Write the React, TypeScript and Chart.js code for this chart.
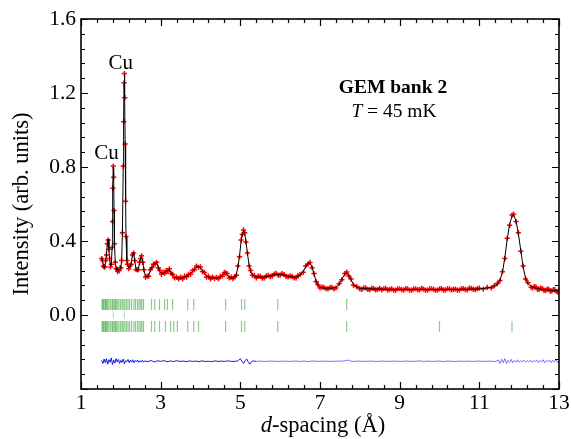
import React, { useEffect, useRef } from 'react';
import { Chart, registerables } from 'chart.js';
Chart.register(...registerables);

// ---------- data ----------
const dObs = [
  1.52, 1.54, 1.56, 1.58, 1.60, 1.62, 1.64, 1.66, 1.68, 1.70,
  1.72, 1.74, 1.76, 1.78, 1.79, 1.80, 1.81, 1.82, 1.83, 1.84,
  1.86, 1.88, 1.90, 1.92, 1.94, 1.96, 1.98, 2.00, 2.02, 2.04,
  2.06, 2.07, 2.08, 2.09, 2.10, 2.11, 2.12, 2.13, 2.15, 2.17,
  2.20, 2.23, 2.26, 2.29, 2.32, 2.35, 2.38, 2.41, 2.44, 2.47,
  2.50, 2.52, 2.55, 2.58, 2.62, 2.66, 2.70, 2.74, 2.78, 2.82,
  2.86, 2.90, 2.94, 2.98, 3.02, 3.06, 3.10, 3.14, 3.18, 3.22,
  3.26, 3.30, 3.35, 3.40, 3.45, 3.50, 3.55, 3.60, 3.65, 3.70,
  3.75, 3.80, 3.85, 3.90, 3.95, 4.00, 4.05, 4.10, 4.15, 4.20,
  4.25, 4.30, 4.35, 4.40, 4.45, 4.50, 4.55, 4.60, 4.63, 4.67,
  4.72, 4.77, 4.82, 4.86, 4.90, 4.94, 4.98, 5.02, 5.05, 5.08,
  5.11, 5.14, 5.18, 5.22, 5.26, 5.30, 5.35, 5.40, 5.50, 5.60,
  5.70, 5.80, 5.90, 6.00, 6.10, 6.20, 6.30, 6.40, 6.50, 6.58,
  6.64, 6.70, 6.75, 6.80, 6.85, 6.90, 6.95, 7.00, 7.10, 7.20,
  7.30, 7.40, 7.48, 7.55, 7.62, 7.67, 7.72, 7.78, 7.84, 7.92,
  8.00, 8.10, 8.20, 8.30, 8.40, 8.50, 8.60, 8.70, 8.80, 8.90,
  9.00, 9.10, 9.20, 9.30, 9.40, 9.50, 9.60, 9.70, 9.80, 9.90,
  10.00, 10.10, 10.20, 10.30, 10.40, 10.50, 10.60, 10.70, 10.80, 10.90,
  11.00, 11.10, 11.20, 11.30, 11.38, 11.45, 11.52, 11.58, 11.64, 11.70,
  11.76, 11.82, 11.86, 11.92, 11.98, 12.04, 12.10, 12.16, 12.22, 12.30,
  12.38, 12.46, 12.54, 12.62, 12.70, 12.78, 12.86, 12.94, 13.00,
];

const yObs = [
  0.305, 0.295, 0.265, 0.26, 0.26, 0.295, 0.325, 0.385, 0.405, 0.355,
  0.305, 0.26, 0.275, 0.365, 0.505, 0.685, 0.805, 0.745, 0.565, 0.385,
  0.285, 0.25, 0.25, 0.235, 0.245, 0.24, 0.255, 0.255, 0.295, 0.445,
  0.805, 1.045, 1.255, 1.305, 1.175, 0.925, 0.615, 0.425, 0.295, 0.275,
  0.25, 0.265, 0.275, 0.325, 0.335, 0.295, 0.245, 0.245, 0.245, 0.285,
  0.305, 0.32, 0.285, 0.245, 0.205, 0.21, 0.21, 0.245, 0.255, 0.275,
  0.275, 0.285, 0.255, 0.24, 0.22, 0.23, 0.225, 0.24, 0.235, 0.25,
  0.225, 0.22, 0.2, 0.205, 0.195, 0.205, 0.195, 0.21, 0.205, 0.22,
  0.22, 0.24, 0.245, 0.265, 0.258, 0.26, 0.235, 0.23, 0.205, 0.21,
  0.195, 0.205, 0.198, 0.203, 0.196, 0.21, 0.21, 0.23, 0.226, 0.224,
  0.2, 0.205, 0.196, 0.208, 0.215, 0.265, 0.315, 0.405, 0.435, 0.46,
  0.445, 0.395, 0.335, 0.265, 0.24, 0.215, 0.214, 0.2, 0.209, 0.201,
  0.214, 0.211, 0.225, 0.216, 0.219, 0.206, 0.209, 0.201, 0.219, 0.231,
  0.265, 0.276, 0.284, 0.256, 0.224, 0.181, 0.164, 0.146, 0.149, 0.141,
  0.149, 0.146, 0.169, 0.191, 0.224, 0.232, 0.211, 0.194, 0.161, 0.154,
  0.141, 0.147, 0.138, 0.145, 0.136, 0.144, 0.142, 0.135, 0.141, 0.134,
  0.142, 0.135, 0.141, 0.134, 0.142, 0.136, 0.14, 0.134, 0.142, 0.135,
  0.141, 0.134, 0.142, 0.136, 0.14, 0.135, 0.143, 0.136, 0.144, 0.137,
  0.145, 0.14, 0.149, 0.146, 0.159, 0.17, 0.186, 0.234, 0.305, 0.415,
  0.485, 0.54, 0.545, 0.505, 0.445, 0.345, 0.265, 0.195, 0.175, 0.15,
  0.153, 0.139, 0.145, 0.134, 0.14, 0.129, 0.137, 0.127, 0.133,
];

const dObsExtra = [
  5.45, 5.55, 5.65, 5.75, 5.85, 5.95, 6.05, 6.15, 6.25, 6.35, 6.45,
  7.05, 7.15, 7.25, 7.35,
  8.05, 8.15, 8.25, 8.35, 8.45, 8.55, 8.65, 8.75, 8.85, 8.95,
  9.05, 9.15, 9.25, 9.35, 9.45, 9.55, 9.65, 9.75, 9.85, 9.95,
  10.05, 10.15, 10.25, 10.35, 10.45, 10.55, 10.65, 10.75, 10.85, 10.95,
  12.34, 12.42, 12.50, 12.58, 12.66, 12.74, 12.82, 12.90, 12.97,
];
const yObsExtra = [
  0.21, 0.199, 0.212, 0.207, 0.221, 0.214, 0.224, 0.208, 0.211, 0.2, 0.213,
  0.151, 0.142, 0.148, 0.141,
  0.139, 0.146, 0.137, 0.143, 0.139, 0.136, 0.144, 0.138, 0.135, 0.142,
  0.137, 0.143, 0.135, 0.14, 0.137, 0.144, 0.135, 0.141, 0.138, 0.134,
  0.143, 0.136, 0.141, 0.139, 0.135, 0.142, 0.137, 0.145, 0.139, 0.143,
  0.146, 0.152, 0.138, 0.143, 0.131, 0.139, 0.13, 0.136, 0.124,
];

const yCalc = [
  0.31, 0.29, 0.27, 0.255, 0.265, 0.29, 0.33, 0.38, 0.41, 0.36,
  0.30, 0.265, 0.27, 0.36, 0.50, 0.69, 0.80, 0.75, 0.56, 0.39,
  0.28, 0.255, 0.245, 0.24, 0.24, 0.245, 0.25, 0.26, 0.29, 0.45,
  0.80, 1.05, 1.25, 1.30, 1.18, 0.92, 0.62, 0.42, 0.30, 0.27,
  0.255, 0.26, 0.28, 0.32, 0.34, 0.29, 0.25, 0.24, 0.25, 0.28,
  0.31, 0.315, 0.29, 0.24, 0.21, 0.205, 0.215, 0.24, 0.26, 0.27,
  0.28, 0.28, 0.26, 0.235, 0.225, 0.225, 0.23, 0.235, 0.24, 0.245,
  0.23, 0.215, 0.205, 0.20, 0.20, 0.20, 0.20, 0.205, 0.21, 0.215,
  0.225, 0.235, 0.25, 0.26, 0.262, 0.255, 0.24, 0.225, 0.21, 0.205,
  0.20, 0.20, 0.20, 0.20, 0.20, 0.205, 0.215, 0.225, 0.23, 0.22,
  0.205, 0.20, 0.20, 0.205, 0.22, 0.26, 0.32, 0.40, 0.44, 0.455,
  0.44, 0.40, 0.33, 0.27, 0.235, 0.22, 0.21, 0.205, 0.205, 0.205,
  0.21, 0.215, 0.22, 0.22, 0.215, 0.21, 0.205, 0.205, 0.215, 0.235,
  0.26, 0.28, 0.28, 0.26, 0.22, 0.185, 0.16, 0.15, 0.145, 0.145,
  0.145, 0.15, 0.165, 0.195, 0.22, 0.228, 0.215, 0.19, 0.165, 0.15,
  0.145, 0.143, 0.142, 0.141, 0.140, 0.140, 0.139, 0.139, 0.138, 0.138,
  0.138, 0.138, 0.138, 0.138, 0.138, 0.138, 0.138, 0.138, 0.138, 0.138,
  0.138, 0.138, 0.138, 0.138, 0.138, 0.138, 0.139, 0.139, 0.140, 0.140,
  0.141, 0.143, 0.146, 0.150, 0.155, 0.165, 0.19, 0.23, 0.31, 0.41,
  0.49, 0.535, 0.54, 0.51, 0.44, 0.35, 0.26, 0.20, 0.17, 0.155,
  0.148, 0.143, 0.140, 0.138, 0.136, 0.134, 0.132, 0.131, 0.130,
];

const dDiff = [
  1.52, 1.55, 1.58, 1.61, 1.64, 1.67, 1.70, 1.73, 1.76, 1.79,
  1.82, 1.85, 1.88, 1.91, 1.94, 1.97, 2.00, 2.03, 2.06, 2.09,
  2.12, 2.15, 2.18, 2.21, 2.24, 2.27, 2.30, 2.33, 2.36, 2.39,
  2.42, 2.45, 2.48, 2.51, 2.54, 2.57, 2.60,
  2.68, 2.76, 2.84, 2.92, 3.00, 3.08, 3.16, 3.24, 3.32, 3.40,
  3.48, 3.56, 3.64, 3.72, 3.80, 3.88, 3.96, 4.04, 4.12, 4.20,
  4.28, 4.36, 4.44, 4.52, 4.60, 4.68, 4.76, 4.84, 4.92,
  4.96, 5.00, 5.04, 5.08, 5.12, 5.16, 5.20, 5.24, 5.28, 5.32,
  5.4, 5.5, 5.6, 5.7, 5.8, 5.9, 6.0, 6.1, 6.2, 6.3,
  6.4, 6.5, 6.6, 6.7, 6.8, 6.9, 7.0, 7.1, 7.2, 7.3,
  7.4, 7.5, 7.6, 7.7, 7.8, 7.9, 8.0, 8.1, 8.2, 8.3,
  8.4, 8.5, 8.6, 8.7, 8.8, 8.9, 9.0, 9.1, 9.2, 9.3,
  9.4, 9.5, 9.6, 9.7, 9.8, 9.9, 10.0, 10.1, 10.2, 10.3,
  10.4, 10.5, 10.6, 10.7, 10.8, 10.9, 11.0, 11.1, 11.2, 11.3, 11.4,
  11.44, 11.48, 11.52, 11.56, 11.60, 11.64, 11.68, 11.72, 11.76, 11.80,
  11.84, 11.88, 11.92, 11.96, 12.00, 12.04, 12.08, 12.12, 12.16, 12.20,
  12.24, 12.28, 12.32, 12.36, 12.40, 12.44, 12.48, 12.52, 12.56, 12.60,
  12.64, 12.68, 12.72, 12.76, 12.80, 12.84, 12.88, 12.92, 12.96, 13.00,
];

const yDiff = [
  -0.245, -0.262, -0.238, -0.258, -0.236, -0.266, -0.242, -0.255, -0.232, -0.268,
  -0.244, -0.26, -0.236, -0.254, -0.24, -0.262, -0.245, -0.256, -0.238, -0.264,
  -0.246, -0.252, -0.24, -0.258, -0.244, -0.255, -0.242, -0.258, -0.246, -0.252,
  -0.243, -0.256, -0.247, -0.253, -0.245, -0.255, -0.248,
  -0.252, -0.246, -0.254, -0.247, -0.251, -0.246, -0.253, -0.248, -0.252, -0.247,
  -0.251, -0.249, -0.252, -0.248, -0.251, -0.249, -0.252, -0.248, -0.251, -0.25,
  -0.252, -0.248, -0.251, -0.249, -0.251, -0.248, -0.25, -0.251, -0.249,
  -0.244, -0.236, -0.25, -0.262, -0.246, -0.238, -0.255, -0.266, -0.252, -0.248,
  -0.251, -0.249, -0.251, -0.25, -0.249, -0.251, -0.25, -0.249, -0.251, -0.25,
  -0.249, -0.251, -0.249, -0.252, -0.248, -0.25, -0.251, -0.249, -0.25, -0.251,
  -0.249, -0.25, -0.248, -0.244, -0.251, -0.25, -0.249, -0.251, -0.25, -0.249,
  -0.251, -0.25, -0.249, -0.251, -0.25, -0.249, -0.251, -0.25, -0.249, -0.251,
  -0.25, -0.248, -0.251, -0.249, -0.251, -0.25, -0.249, -0.252, -0.249, -0.25,
  -0.251, -0.249, -0.251, -0.249, -0.251, -0.25, -0.249, -0.251, -0.25, -0.249, -0.252,
  -0.248, -0.243, -0.262, -0.24, -0.258, -0.236, -0.262, -0.245, -0.256, -0.24,
  -0.258, -0.246, -0.255, -0.242, -0.256, -0.247, -0.252, -0.244, -0.256, -0.246,
  -0.253, -0.244, -0.256, -0.247, -0.252, -0.243, -0.257, -0.246, -0.253, -0.242,
  -0.258, -0.247, -0.251, -0.243, -0.257, -0.245, -0.254, -0.242, -0.257, -0.248,
];

// Bragg reflection markers (d positions)
const reflPhaseA = [
  1.53, 1.55, 1.57, 1.60, 1.62, 1.64, 1.67, 1.70, 1.74, 1.78,
  1.80, 1.83, 1.86, 1.88, 1.91, 1.95, 1.99, 2.03, 2.06, 2.10,
  2.14, 2.18, 2.22, 2.27, 2.33, 2.37, 2.42, 2.46, 2.50, 2.53, 2.57,
  2.77, 2.85, 2.97, 3.10, 3.17, 3.30, 3.68, 3.83, 4.63, 5.03, 5.11, 5.94, 7.67,
];
const reflCu = [1.808, 2.087];
const reflPhaseB = [
  1.53, 1.55, 1.57, 1.60, 1.62, 1.64, 1.67, 1.70, 1.74, 1.78,
  1.80, 1.83, 1.86, 1.88, 1.91, 1.95, 1.99, 2.03, 2.06, 2.10,
  2.14, 2.18, 2.22, 2.27, 2.33, 2.37, 2.42, 2.46, 2.50, 2.53, 2.57,
  2.77, 2.85, 2.97, 3.12, 3.25, 3.33, 3.42, 3.68, 3.83, 3.95,
  4.63, 5.03, 5.11, 5.94, 7.67, 10.0, 11.82,
];

const xTickValues = [1, 3, 5, 7, 9, 11, 13];
const yTickValues = [0, 0.4, 0.8, 1.2, 1.6];

// ---------- helpers ----------
const FONT = "'Liberation Serif', 'Times New Roman', serif";

function zip(xs: number[], ys: number[]) {
  const n = Math.min(xs.length, ys.length);
  const out: { x: number; y: number }[] = [];
  for (let i = 0; i < n; i++) out.push({ x: xs[i], y: ys[i] });
  return out;
}
function row(xs: number[], level: number) {
  return xs.map((x) => ({ x, y: level }));
}

function mixedText(ctx: any, parts: { t: string; font: string }[], cx: number, y: number) {
  let total = 0;
  const widths = parts.map((p) => {
    ctx.font = p.font;
    const w = ctx.measureText(p.t).width;
    total += w;
    return w;
  });
  let x = cx - total / 2;
  ctx.textAlign = 'left';
  parts.forEach((p, i) => {
    ctx.font = p.font;
    ctx.fillText(p.t, x, y);
    x += widths[i];
  });
}

const framePlugin = {
  id: 'frameAndText',
  afterDraw(chart: any) {
    const { ctx, chartArea: a, scales } = chart;
    const xs = scales.x;
    const ys = scales.y;
    ctx.save();
    ctx.strokeStyle = '#000';
    ctx.lineWidth = 1.6;
    ctx.strokeRect(a.left, a.top, a.right - a.left, a.bottom - a.top);

    ctx.lineWidth = 1.2;
    const major = 7;
    const minor = 4;
    for (let k = 0; k <= 30; k++) {
      const v = 1 + k * 0.4;
      if (v > 13.0001) break;
      const len = k % 5 === 0 ? major : minor;
      const px = Math.round(xs.getPixelForValue(v)) + 0.5;
      ctx.beginPath();
      ctx.moveTo(px, a.bottom);
      ctx.lineTo(px, a.bottom - len);
      ctx.moveTo(px, a.top);
      ctx.lineTo(px, a.top + len);
      ctx.stroke();
    }
    for (let k = 0; k <= 25; k++) {
      const v = -0.4 + k * 0.08;
      if (v > 1.6001) break;
      const len = k % 5 === 0 ? major : minor;
      const py = Math.round(ys.getPixelForValue(v)) + 0.5;
      ctx.beginPath();
      ctx.moveTo(a.left, py);
      ctx.lineTo(a.left + len, py);
      ctx.moveTo(a.right, py);
      ctx.lineTo(a.right - len, py);
      ctx.stroke();
    }

    // annotations
    ctx.fillStyle = '#000';
    ctx.textBaseline = 'alphabetic';
    ctx.textAlign = 'center';
    ctx.font = `21px ${FONT}`;
    ctx.fillText('Cu', xs.getPixelForValue(2.0), 69);
    ctx.fillText('Cu', xs.getPixelForValue(1.64), 159);

    ctx.font = `bold 19.5px ${FONT}`;
    ctx.fillText('GEM bank 2', 393, 93);
    mixedText(
      ctx,
      [
        { t: 'T', font: `italic 19.5px ${FONT}` },
        { t: ' = 45 mK', font: `19.5px ${FONT}` },
      ],
      394,
      117,
    );

    // x-axis title with italic d
    mixedText(
      ctx,
      [
        { t: 'd', font: `italic 22.5px ${FONT}` },
        { t: '-spacing (Å)', font: `22.5px ${FONT}` },
      ],
      (a.left + a.right) / 2 + 3,
      432,
    );
    ctx.restore();
  },
};

export default function App() {
  const ref = useRef<HTMLCanvasElement | null>(null);

  useEffect(() => {
    document.body.style.margin = '0';
    const canvas = ref.current;
    if (!canvas) return;

    const obsPoints = zip(dObs, yObs)
      .concat(zip(dObsExtra, yObsExtra))
      .sort((p, q) => p.x - q.x);

    const tickColor = 'rgba(0, 140, 0, 0.45)';
    const chart = new Chart(canvas, {
      type: 'scatter',
      data: {
        datasets: [
          {
            label: 'calc',
            data: zip(dObs, yCalc),
            showLine: true,
            borderColor: '#000',
            borderWidth: 1,
            pointRadius: 0,
            order: 0,
          },
          {
            label: 'obs',
            data: obsPoints,
            showLine: false,
            pointStyle: 'cross',
            pointRadius: 2.6,
            borderColor: '#ff0000',
            backgroundColor: '#ff0000',
            borderWidth: 1.5,
            order: 1,
          },
          {
            label: 'diff',
            data: zip(dDiff, yDiff),
            showLine: true,
            borderWidth: 1,
            borderColor: 'rgba(30, 30, 255, 0.7)',
            segment: {
              borderColor: (c: any) =>
                c.p0.parsed.x < 5.35 ? 'rgba(0, 0, 235, 0.9)' : 'rgba(60, 60, 255, 0.7)',
            },
            pointRadius: 0,
            order: 2,
          },
          {
            label: 'phaseA',
            data: row(reflPhaseA, 0.057),
            showLine: false,
            pointStyle: 'line',
            rotation: 90,
            pointRadius: 5.5,
            borderColor: tickColor,
            borderWidth: 1.2,
            order: 3,
          },
          {
            label: 'Cu',
            data: row(reflCu, 0.0),
            showLine: false,
            pointStyle: 'line',
            rotation: 90,
            pointRadius: 4,
            borderColor: 'rgba(0, 140, 0, 0.3)',
            borderWidth: 1,
            order: 3,
          },
          {
            label: 'phaseB',
            data: row(reflPhaseB, -0.062),
            showLine: false,
            pointStyle: 'line',
            rotation: 90,
            pointRadius: 5.5,
            borderColor: tickColor,
            borderWidth: 1.2,
            order: 3,
          },
        ],
      },
      options: {
        animation: false,
        responsive: false,
        maintainAspectRatio: false,
        events: [],
        layout: { padding: { left: 0, right: 12, top: 19, bottom: 0 } },
        plugins: {
          legend: { display: false },
          tooltip: { enabled: false },
        },
        scales: {
          x: {
            type: 'linear',
            min: 1,
            max: 13,
            afterBuildTicks: (s: any) => {
              s.ticks = xTickValues.map((v) => ({ value: v }));
            },
            afterFit: (s: any) => {
              s.height = 50;
            },
            ticks: {
              color: '#000',
              font: { family: FONT, size: 21.5 },
              padding: 1,
              maxRotation: 0,
              autoSkip: false,
              callback: (v: any) => String(v),
            },
            grid: { display: false, drawTicks: false },
            border: { display: false },
          },
          y: {
            type: 'linear',
            min: -0.4,
            max: 1.6,
            afterBuildTicks: (s: any) => {
              s.ticks = yTickValues.map((v) => ({ value: v }));
            },
            afterFit: (s: any) => {
              s.width = 81;
            },
            ticks: {
              color: '#000',
              font: { family: FONT, size: 21.5 },
              padding: 5,
              callback: (v: any) => Number(v).toFixed(1),
            },
            grid: { display: false, drawTicks: false },
            border: { display: false },
            title: {
              display: true,
              text: 'Intensity (arb. units)',
              color: '#000',
              font: { family: FONT, size: 22.5 },
              padding: { top: 9, bottom: 0 },
            },
          },
        },
      },
      plugins: [framePlugin],
    } as any);

    return () => chart.destroy();
  }, []);

  return (
    <div style={{ width: 571, height: 439, position: 'relative' }}>
      <canvas ref={ref} width={571} height={439} style={{ width: 571, height: 439, display: 'block' }} />
    </div>
  );
}
